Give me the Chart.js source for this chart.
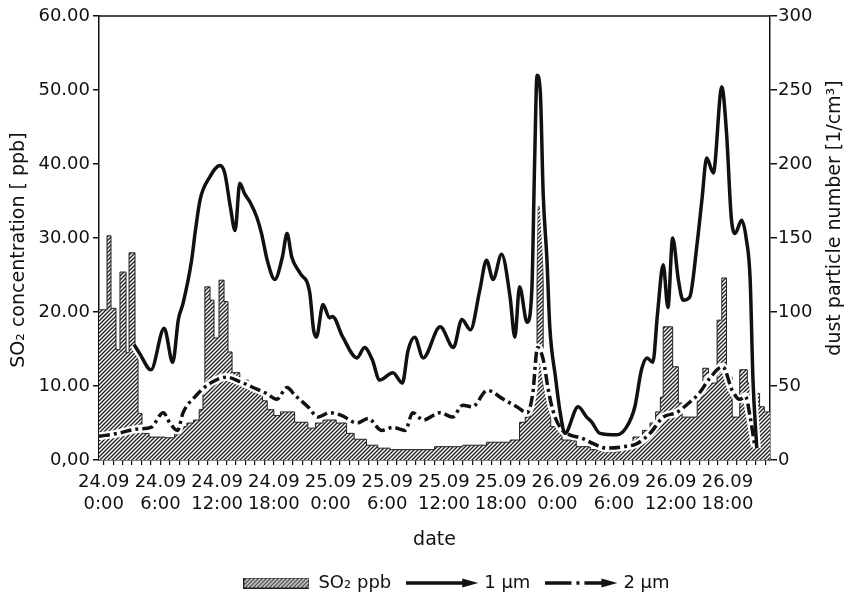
<!DOCTYPE html>
<html>
<head>
<meta charset="utf-8">
<script src="https://cdn.jsdelivr.net/npm/chart.js@4"></script>
<style>
  html, body { margin: 0; padding: 0; background: #fff; }
</style>
</head>
<body>
<canvas id="myChart" width="848" height="602"></canvas>
<script>
// x values are hours since 24.09 0:00
const tickLabels = [
  ['24.09', '0:00'], ['24.09', '6:00'], ['24.09', '12:00'], ['24.09', '18:00'],
  ['25.09', '0:00'], ['25.09', '6:00'], ['25.09', '12:00'], ['25.09', '18:00'],
  ['26.09', '0:00'], ['26.09', '6:00'], ['26.09', '12:00'], ['26.09', '18:00']
];

// SO2 [ppb], stepped: each value holds until the next time
const so2Hours = [-0.5, 0.35, 0.77, 1.3, 1.72, 2.36, 2.68, 3.31, 3.63, 4.05, 4.8, 6.5, 7.5, 8.0, 8.8,
  9.5, 10.1, 10.5, 10.7, 11.25, 11.67, 12.2, 12.73, 13.15, 13.58, 14.4, 15.3, 16.2, 16.8, 17.3,
  18.0, 18.7, 20.2, 21.6, 22.4, 23.2, 24.6, 25.7, 26.5, 27.8, 29.0, 30.3, 35.0, 38.0, 40.5,
  43.0, 44.0, 44.6, 45.1, 45.4, 45.85, 46.5, 47.3, 48.5, 50.0, 51.5, 53.0, 54.5, 55.2, 56.0,
  57.0, 57.8, 58.4, 58.9, 59.2, 60.2, 60.8, 61.2, 62.8, 63.4, 64.0, 64.9, 65.4, 65.9, 66.5,
  67.3, 68.1, 68.8, 69.4, 69.9, 70.5];
const so2Values = [20.3, 30.3, 20.5, 14.9, 25.4, 14.5, 28.0, 15.3, 6.3, 3.6, 3.1, 3.0, 3.5, 4.5, 5.0,
  5.4, 6.8, 9.5, 23.4, 21.6, 16.5, 24.3, 21.4, 14.6, 11.8, 10.8, 10.0, 9.0, 8.0, 6.8,
  6.0, 6.5, 5.1, 4.3, 5.0, 5.4, 5.0, 3.6, 2.8, 2.0, 1.6, 1.4, 1.8, 2.0, 2.4,
  2.7, 5.1, 5.8, 9.0, 14.0, 34.2, 9.9, 4.5, 2.7, 1.8, 1.4, 1.1, 1.5, 2.0, 3.1,
  4.0, 5.0, 6.5, 8.5, 18.0, 12.6, 7.7, 5.8, 8.5, 12.4, 10.4, 18.9, 24.6, 11.2, 5.8,
  12.2, 10.4, 9.0, 7.2, 6.5, 6.5];

// 1 um particles [1/cm3]
const dust1Hours = [3.2, 3.8, 5.0, 6.4, 7.3, 7.9, 8.4, 9.3, 9.7, 10.2, 11.2, 12.3, 12.8, 13.4, 13.9,
  14.4, 14.9, 15.5, 16.2, 16.7, 17.3, 18.1, 18.9, 19.4, 19.9, 20.8, 21.8, 22.2, 22.5, 23.2,
  23.9, 24.2, 25.3, 26.8, 27.6, 28.4, 29.2, 30.6, 31.6, 32.2, 32.9, 33.8, 35.6, 37.0, 37.9,
  38.8, 39.8, 40.5, 41.2, 42.1, 43.0, 43.5, 44.0, 44.8, 45.3, 45.6, 45.85, 46.2, 46.5, 46.9,
  47.2, 47.8, 48.3, 48.8, 50.2, 51.1, 51.6, 52.5, 54.3, 55.3, 56.2, 56.9, 57.5, 58.1, 58.6,
  59.2, 59.7, 60.2, 60.8, 61.3, 62.0, 62.8, 63.3, 63.8, 64.5, 65.4, 65.9, 66.4, 66.8, 67.5,
  68.0, 68.4, 68.7, 69.1];
const dust1Values = [78, 72, 61, 89, 66, 95, 106, 135, 155, 176, 191, 199, 194, 171, 155,
  187, 180, 174, 164, 153, 135, 122, 137, 153, 137, 126, 113, 88, 83, 105,
  96, 97, 83, 69, 76, 68, 54, 59, 52, 74, 83, 69, 90, 76, 95,
  88, 115, 135, 122, 139, 110, 83, 117, 93, 115, 203, 260, 248, 180, 135,
  90, 56, 32, 18, 36, 29, 26, 18, 17, 22, 36, 61, 69, 66, 99,
  132, 103, 150, 122, 108, 110, 147, 176, 204, 194, 252, 221, 164, 153, 162,
  149, 122, 54, 8];

// 2 um particles [1/cm3]
const dust2Hours = [-0.5, 1.5, 3.6, 5.0, 6.3, 7.0, 7.8, 8.4, 9.7, 11.3, 13.0, 14.4, 15.8, 17.2, 18.3,
  19.4, 20.2, 21.6, 22.7, 23.9, 25.2, 26.8, 28.0, 29.4, 30.6, 31.9, 32.7, 33.8, 35.6, 36.9,
  38.0, 39.0, 40.6, 42.3, 43.7, 44.8, 45.4, 45.9, 46.5, 47.0, 47.5, 48.3, 49.3, 50.5, 51.8,
  53.2, 55.0, 56.4, 57.8, 59.2, 60.6, 62.0, 63.0, 64.1, 65.5, 66.5, 67.3, 67.9, 68.4, 68.9];
const dust2Values = [16, 18, 21, 22, 32, 25, 20, 32, 43, 52, 56, 53, 49, 45, 41,
  49, 44, 36, 29, 32, 30, 25, 28, 20, 22, 20, 32, 27, 32, 29,
  37, 36, 47, 41, 36, 32, 45, 76, 68, 49, 34, 22, 17, 15, 11,
  8, 9, 11, 18, 29, 32, 39, 45, 55, 63, 47, 41, 43, 29, 9];

const toPoints = (xs, ys) => xs.map((x, i) => ({x: x, y: ys[i]}));

const makeHatch = () => {
  let c = document.createElement('canvas');
  c.width = 4; c.height = 4;
  let g = c.getContext('2d');
  g.fillStyle = '#ffffff';
  g.fillRect(0, 0, 4, 4);
  g.strokeStyle = '#222';
  g.lineWidth = 1.4;
  g.beginPath();
  g.moveTo(0, 4); g.lineTo(4, 0);
  g.moveTo(-1, 1); g.lineTo(1, -1);
  g.moveTo(3, 5); g.lineTo(5, 3);
  g.stroke();
  return g.createPattern(c, 'repeat');
};

const hatch = makeHatch();

// small pictures used as legend symbols
const legendBox = () => {
  let c = document.createElement('canvas');
  c.width = 66; c.height = 11;
  let g = c.getContext('2d');
  g.fillStyle = hatch;
  g.fillRect(0, 0, 66, 11);
  g.strokeStyle = '#222';
  g.lineWidth = 1;
  g.strokeRect(0.5, 0.5, 65, 10);
  return c;
};

const legendArrow = (dashed) => {
  let c = document.createElement('canvas');
  c.width = 72; c.height = 12;
  let g = c.getContext('2d');
  g.strokeStyle = '#111';
  g.fillStyle = '#111';
  g.lineWidth = 3.5;
  g.beginPath();
  if (dashed) {
    g.moveTo(0, 6); g.lineTo(26, 6);
    g.moveTo(31, 6); g.lineTo(34, 6);
    g.moveTo(39, 6); g.lineTo(60, 6);
  } else {
    g.moveTo(0, 6); g.lineTo(60, 6);
  }
  g.stroke();
  g.beginPath();
  g.moveTo(56, 1.5); g.lineTo(72, 6); g.lineTo(56, 10.5);
  g.closePath();
  g.fill();
  return c;
};

// top frame line, right axis title (reads bottom to top), legend nudge
const framePlugin = {
  id: 'frame',
  afterLayout(chart) {
    chart.legend.left += 22;
    chart.legend.right += 22;
  },
  afterDraw(chart) {
    const {ctx, chartArea} = chart;
    ctx.save();
    ctx.strokeStyle = '#111';
    ctx.lineWidth = 1.5;
    ctx.beginPath();
    ctx.moveTo(chartArea.left, chartArea.top);
    ctx.lineTo(chartArea.right, chartArea.top);
    ctx.stroke();
    ctx.translate(chartArea.right + 65, (chartArea.top + chartArea.bottom) / 2 - 20);
    ctx.rotate(-Math.PI / 2);
    ctx.fillStyle = '#111';
    ctx.font = '19px "DejaVu Sans"';
    ctx.textAlign = 'center';
    ctx.textBaseline = 'middle';
    ctx.fillText('dust particle number [1/cm³]', 0, 0);
    ctx.restore();
  }
};

Chart.defaults.font.family = '"DejaVu Sans"';
Chart.defaults.font.size = 18;
Chart.defaults.color = '#111';

const lineCommon = {
  pointRadius: 0,
  cubicInterpolationMode: 'monotone',
  yAxisID: 'y2',
  fill: false
};

const ctx = document.getElementById('myChart');
const _chart = new Chart(ctx, {
  type: 'line',
  data: {
    datasets: [
      {
        label: 'SO₂ ppb',
        data: toPoints(so2Hours, so2Values),
        stepped: true,
        fill: 'origin',
        backgroundColor: hatch,
        borderColor: '#222',
        borderWidth: 1,
        pointRadius: 0,
        pointStyle: legendBox(),
        yAxisID: 'y',
        order: 3
      },
      Object.assign({}, lineCommon, {
        label: '',
        data: toPoints(dust1Hours, dust1Values),
        borderColor: '#ffffff',
        borderWidth: 8,
        order: 2
      }),
      Object.assign({}, lineCommon, {
        label: '',
        data: toPoints(dust2Hours, dust2Values),
        borderColor: '#ffffff',
        borderWidth: 8,
        order: 2
      }),
      Object.assign({}, lineCommon, {
        label: '1 µm',
        data: toPoints(dust1Hours, dust1Values),
        borderColor: '#111',
        borderWidth: 3.5,
        pointStyle: legendArrow(false),
        order: 1
      }),
      Object.assign({}, lineCommon, {
        label: '2 µm',
        data: toPoints(dust2Hours, dust2Values),
        borderColor: '#111',
        borderWidth: 3.5,
        borderDash: [11, 4, 3, 4],
        pointStyle: legendArrow(true),
        order: 1
      })
    ]
  },
  options: {
    responsive: false,
    animation: false,
    devicePixelRatio: 1,
    layout: {
      padding: {top: 16, left: 0, right: 0, bottom: 0}
    },
    scales: {
      x: {
        type: 'linear',
        min: -0.5,
        max: 70.5,
        afterBuildTicks: (scale) => {
          let t = [];
          for (let h = 0; h <= 70; h++) t.push({value: h});
          scale.ticks = t;
        },
        afterFit: (scale) => { scale.height = 96; },
        ticks: {
          autoSkip: false,
          maxRotation: 0,
          padding: 7,
          callback: (v) => (v % 6 === 0 ? tickLabels[v / 6] : '')
        },
        grid: {drawOnChartArea: false, tickLength: 5, color: '#111', lineWidth: 1.2},
        border: {color: '#111', width: 1.5},
        title: {display: true, text: 'date', font: {size: 19}, padding: {top: 4, bottom: 5}}
      },
      y: {
        position: 'left',
        min: 0,
        max: 60,
        afterFit: (scale) => { scale.width = 99; },
        ticks: {
          stepSize: 10,
          padding: 3,
          callback: (v) => (v === 0 ? '0,00' : v.toFixed(2))
        },
        grid: {drawOnChartArea: false, tickLength: 6, color: '#111', lineWidth: 1.5},
        border: {color: '#111', width: 1.5},
        title: {
          display: true,
          text: 'SO₂ concentration [ ppb]\u00a0\u00a0\u00a0\u00a0',
          font: {size: 19},
          padding: {top: 8}
        }
      },
      y2: {
        position: 'right',
        min: 0,
        max: 300,
        afterFit: (scale) => { scale.width = 78; },
        ticks: {stepSize: 50, padding: 1},
        grid: {drawOnChartArea: false, tickLength: 7, color: '#111', lineWidth: 1.5},
        border: {color: '#111', width: 1.5}
      }
    },
    plugins: {
      tooltip: {enabled: false},
      legend: {
        position: 'bottom',
        fullSize: false,
        labels: {
          usePointStyle: true,
          pointStyleWidth: 66,
          boxHeight: 11,
          padding: 18,
          filter: (item) => item.text !== '',
          sort: (a, b) => a.datasetIndex - b.datasetIndex
        }
      }
    }
  },
  plugins: [framePlugin]
});
</script>
</body>
</html>
